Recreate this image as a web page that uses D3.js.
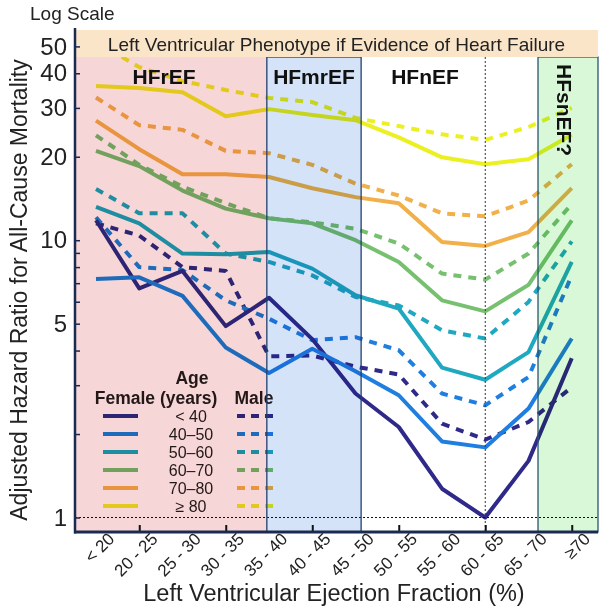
<!DOCTYPE html>
<html><head><meta charset="utf-8">
<script src="https://cdn.jsdelivr.net/npm/d3@7"></script>
<style>
body{margin:0;background:#fff}
svg{display:block;font-family:"Liberation Sans",Arial,Helvetica,sans-serif}
</style>
</head><body><div id="chart"></div>
<script>
// ---------- data ----------
const categories = ["< 20","20 - 25","25 - 30","30 - 35","35 - 40","40 - 45","45 - 50","50 - 55","55 - 60","60 - 65","65 - 70","\u226570"];
const ageGroups = ["< 40","40\u201350","50\u201360","60\u201370","70\u201380","\u2265 80"];
const phenotypes = ["HFrEF","HFmrEF","HFnEF","HFsnEF?"];
const yTickValues = [1,2,3,4,5,6,7,8,9,10,20,30,40,50];
const yTickLabels = [1,5,10,20,30,40,50];

const femaleUnder40 = [11.8, 6.7, 7.75, 4.9, 6.2, 4.4, 2.8, 2.12, 1.27, 1.0, 1.6, 3.75];
const female40to50  = [7.25, 7.35, 6.3, 4.1, 3.32, 4.06, 3.37, 2.76, 1.88, 1.79, 2.47, 4.42];
const female50to60  = [13.2, 11.5, 8.95, 8.9, 9.07, 7.9, 6.33, 5.67, 3.47, 3.14, 3.95, 8.35];
const female60to70  = [21.0, 18.5, 15.1, 13.0, 12.0, 11.5, 10.0, 8.35, 6.07, 5.54, 6.9, 11.8];
const female70to80  = [27.0, 21.3, 17.3, 17.3, 16.9, 15.4, 14.3, 13.6, 9.86, 9.54, 10.7, 15.4];
const female80plus  = [36.0, 35.4, 34.2, 28.0, 29.7, 28.3, 27.1, 23.5, 19.9, 18.8, 19.6, 24.0];

const maleUnder40 = [11.5, 10.4, 8.0, 7.75, 3.81, 3.84, 3.5, 3.28, 2.18, 1.91, 2.21, 2.95];
const male40to50  = [12.1, 8.0, 7.8, 6.07, 5.21, 4.36, 4.47, 4.01, 2.80, 2.54, 3.21, 7.47];
const male50to60  = [15.3, 12.5, 12.5, 8.95, 8.35, 7.47, 6.24, 5.82, 4.73, 4.42, 5.99, 9.9];
const male60to70  = [23.9, 18.7, 15.6, 13.6, 12.0, 11.6, 11.0, 9.73, 7.58, 7.21, 8.95, 13.5];
const male70to80  = [32.7, 26.0, 25.0, 21.0, 20.6, 18.7, 16.0, 14.5, 12.5, 12.2, 13.9, 18.8];
const male80plus  = [52.0, 42.1, 37.5, 34.8, 32.6, 31.5, 27.6, 25.8, 24.1, 23.0, 25.6, 30.0];

const femaleSeries = [femaleUnder40, female40to50, female50to60, female60to70, female70to80, female80plus];
const maleSeries   = [maleUnder40, male40to50, male50to60, male60to70, male70to80, male80plus];
const ageColors = ["#2f2a8a", "#1f7fe0", "#1fa8c0", "#76c070", "#f2b04a", "#ecf020"];

// ---------- layout ----------
const W = 600, H = 607;
const L = 75, R = 598, T = 57, B = 532, bandTop = 30;

const svg = d3.select("#chart").append("svg").attr("width", W).attr("height", H);

const x = d3.scalePoint().domain(categories).range([96, 571.75]);
const xi = d3.scaleLinear().domain([0, categories.length - 1]).range(x.range());
const y = d3.scaleLog().domain([1, 50]).range([517.5, 46.4]);

const b1 = xi(3.95), b2 = xi(6.13), b3 = xi(10.22);

// ---------- lines ----------
const line = d3.line().x((d, i) => x(categories[i])).y(d => y(d)).curve(d3.curveLinear);
const gLines = svg.append("g");
maleSeries.forEach((s, k) => {
  gLines.append("path").attr("d", line(s)).attr("fill", "none")
    .attr("stroke", ageColors[k]).attr("stroke-width", 4)
    .attr("stroke-dasharray", "8,7").attr("stroke-linejoin", "round");
});
femaleSeries.forEach((s, k) => {
  gLines.append("path").attr("d", line(s)).attr("fill", "none")
    .attr("stroke", ageColors[k]).attr("stroke-width", 4)
    .attr("stroke-linejoin", "round");
});

// ---------- reference lines ----------
svg.append("line").attr("x1", L).attr("x2", R).attr("y1", y(1)).attr("y2", y(1))
  .attr("stroke", "#111").attr("stroke-width", 1).attr("stroke-dasharray", "2,2");
svg.append("line").attr("x1", x(categories[9])).attr("x2", x(categories[9])).attr("y1", T).attr("y2", B)
  .attr("stroke", "#333").attr("stroke-width", 1).attr("stroke-dasharray", "2,2");

// ---------- legend ----------
const lg = svg.append("g").attr("fill", "#241c1c");
lg.append("text").attr("x", 192).attr("y", 384).attr("text-anchor", "middle")
  .attr("font-size", 17.5).attr("font-weight", "bold").text("Age");
lg.append("text").attr("x", 156).attr("y", 404).attr("text-anchor", "middle")
  .attr("font-size", 17.5).attr("font-weight", "bold").text("Female (years)");
lg.append("text").attr("x", 254).attr("y", 404).attr("text-anchor", "middle")
  .attr("font-size", 17.5).attr("font-weight", "bold").text("Male");
ageGroups.forEach((g, k) => {
  const yy = 416 + k * 18;
  lg.append("line").attr("x1", 103).attr("x2", 138).attr("y1", yy).attr("y2", yy)
    .attr("stroke", ageColors[k]).attr("stroke-width", 4);
  lg.append("line").attr("x1", 237).attr("x2", 273).attr("y1", yy).attr("y2", yy)
    .attr("stroke", ageColors[k]).attr("stroke-width", 4).attr("stroke-dasharray", "8,6");
  lg.append("text").attr("x", 191).attr("y", yy + 6).attr("text-anchor", "middle")
    .attr("font-size", 16).text(g);
});

// ---------- region overlays (multiply) ----------
const regions = [
  {x0: L, x1: b1, fill: "#f6d6d6", stroke: null},
  {x0: b1, x1: b2, fill: "#d5e3f8", stroke: "#22406e"},
  {x0: b3, x1: R, fill: "#d8f8d8", stroke: "#2c5570"}
];
svg.append("g").selectAll("rect").data(regions).join("rect")
  .attr("x", d => d.x0).attr("y", T).attr("width", d => d.x1 - d.x0).attr("height", B - T)
  .attr("fill", d => d.fill).style("mix-blend-mode", "multiply");
svg.append("g").selectAll("rect").data(regions.filter(d => d.stroke)).join("rect")
  .attr("x", d => d.x0).attr("y", T).attr("width", d => d.x1 - d.x0).attr("height", B - T)
  .attr("fill", "none").attr("stroke", d => d.stroke).attr("stroke-width", 1.3);

// ---------- top band ----------
svg.append("rect").attr("x", L + 1).attr("y", bandTop).attr("width", R - L - 1).attr("height", T - bandTop)
  .attr("fill", "#fae5c9");
svg.append("text").attr("x", (L + R) / 2).attr("y", 51).attr("text-anchor", "middle")
  .attr("font-size", 19).attr("fill", "#222").text("Left Ventricular Phenotype if Evidence of Heart Failure");

// ---------- region labels ----------
const labG = svg.append("g").attr("font-weight", "bold").attr("font-size", 21).attr("fill", "#111");
labG.append("text").attr("x", 164).attr("y", 84).attr("text-anchor", "middle").text(phenotypes[0]);
labG.append("text").attr("x", (b1 + b2) / 2).attr("y", 84).attr("text-anchor", "middle").text(phenotypes[1]);
labG.append("text").attr("x", 425).attr("y", 84).attr("text-anchor", "middle").text(phenotypes[2]);
labG.append("text").attr("transform", `translate(${b3 + 19},64) rotate(90)`).text(phenotypes[3]);

// ---------- axes ----------
const yAxis = d3.axisLeft(y).tickValues(yTickValues).tickSize(-5).tickPadding(8)
  .tickFormat(d => yTickLabels.includes(d) ? d : "");
const gy = svg.append("g").attr("transform", `translate(${L},0)`).call(yAxis);
gy.select(".domain").remove();
gy.selectAll(".tick line").attr("stroke", "#1b2a50").attr("stroke-width", 1.5);
gy.selectAll(".tick text").attr("font-size", 24).attr("fill", "#222")
  .attr("font-family", '"Liberation Sans",Arial,sans-serif');

const xAxis = d3.axisBottom(x).tickSize(-7).tickPadding(0);
const gx = svg.append("g").attr("transform", `translate(0,${B})`).call(xAxis);
gx.select(".domain").remove();
gx.selectAll(".tick line").attr("stroke", "#111").attr("stroke-width", 2)
  .attr("opacity", (d, i) => i % 2 === 1 ? 1 : 0);
gx.selectAll(".tick text").attr("font-size", 17).attr("fill", "#222")
  .attr("font-family", '"Liberation Sans",Arial,sans-serif')
  .attr("x", 0).attr("y", 0).attr("dy", 0).attr("text-anchor", "end")
  .attr("transform", "translate(19,8) rotate(-45)");

svg.append("line").attr("x1", L).attr("x2", L).attr("y1", 28).attr("y2", B + 1.5)
  .attr("stroke", "#1b2a55").attr("stroke-width", 2.5);
svg.append("line").attr("x1", L - 1).attr("x2", R).attr("y1", B).attr("y2", B)
  .attr("stroke", "#1b2a50").attr("stroke-width", 3);

// ---------- titles ----------
svg.append("text").attr("x", 30).attr("y", 20).attr("font-size", 19).attr("fill", "#222").text("Log Scale");
svg.append("text").attr("x", 334).attr("y", 601).attr("text-anchor", "middle")
  .attr("font-size", 23.5).attr("fill", "#222").text("Left Ventricular Ejection Fraction (%)");
svg.append("text").attr("transform", "translate(27,290) rotate(-90)").attr("text-anchor", "middle")
  .attr("font-size", 23).attr("fill", "#222").text("Adjusted Hazard Ratio for All-Cause Mortality");
</script>
</body></html>
